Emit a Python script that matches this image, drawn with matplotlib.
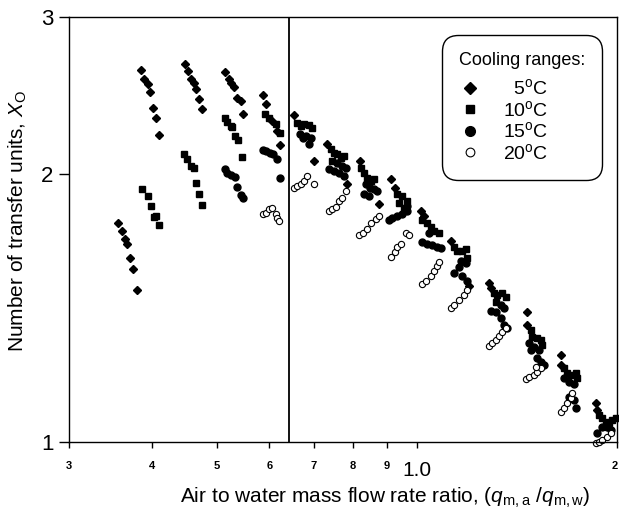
import matplotlib
matplotlib.use("Agg")
import matplotlib.pyplot as plt
from matplotlib.ticker import FixedLocator, NullLocator, FixedFormatter

plt.rcParams['font.family'] = ['Liberation Sans', 'DejaVu Sans']
plt.rcParams['mathtext.fontset'] = 'custom'
plt.rcParams['mathtext.rm'] = 'Liberation Sans'
plt.rcParams['mathtext.it'] = 'Liberation Sans:italic'

# ---- data: 5 C (diamonds)
x5 = [0.356, 0.360, 0.364, 0.366, 0.371, 0.374, 0.379,
      0.385, 0.389, 0.394, 0.397, 0.401, 0.406, 0.409,
      0.448, 0.452, 0.457, 0.462, 0.466, 0.470, 0.475,
      0.514, 0.521, 0.526, 0.530, 0.537, 0.543, 0.547,
      0.586, 0.594, 0.606, 0.617, 0.623,
      0.654, 0.701, 0.733, 0.785, 0.822, 0.877, 0.915, 0.925,
      1.014, 1.024, 1.124, 1.196, 1.282, 1.291, 1.462, 1.462,
      1.643, 1.643, 1.854, 1.861]
y5 = [1.760, 1.728, 1.689, 1.667, 1.608, 1.563, 1.480,
      2.617, 2.556, 2.524, 2.472, 2.372, 2.312, 2.213,
      2.657, 2.610, 2.556, 2.530, 2.491, 2.428, 2.366,
      2.603, 2.556, 2.530, 2.504, 2.434, 2.415, 2.335,
      2.453, 2.397, 2.294, 2.236, 2.157,
      2.329, 2.069, 2.162, 1.951, 2.069, 1.852, 1.976, 1.931,
      1.819, 1.796, 1.684, 1.499, 1.510, 1.491, 1.398, 1.352,
      1.251, 1.220, 1.106, 1.086]

# ---- 10 C (squares)
x10 = [0.386, 0.394, 0.398, 0.403, 0.406, 0.409,
       0.446, 0.451, 0.457, 0.462, 0.466, 0.470, 0.475,
       0.514, 0.519, 0.525, 0.528, 0.533, 0.539, 0.545,
       0.590, 0.600, 0.613, 0.623,
       0.661, 0.670, 0.677, 0.689, 0.696,
       0.743, 0.751, 0.759, 0.769, 0.777, 0.746,
       0.825, 0.833, 0.841, 0.853, 0.862,
       0.934, 0.950, 0.967, 0.940, 0.957,
       1.017, 1.035, 1.049, 1.060, 1.079,
       1.136, 1.148, 1.168, 1.184, 1.188,
       1.304, 1.318, 1.341, 1.359, 1.313,
       1.482, 1.487, 1.513, 1.534, 1.539,
       1.661, 1.678, 1.701, 1.731, 1.737,
       1.874, 1.893, 1.919, 1.940, 1.960, 1.987]
y10 = [1.926, 1.891, 1.843, 1.791, 1.796, 1.755,
       2.107, 2.080, 2.043, 2.032, 1.956, 1.901, 1.848,
       2.312, 2.289, 2.265, 2.259, 2.207, 2.185, 2.090,
       2.335, 2.312, 2.276, 2.224,
       2.283, 2.265, 2.276, 2.271, 2.254,
       2.134, 2.112, 2.107, 2.085, 2.096, 2.069,
       2.032, 2.006, 1.981, 1.966, 1.976,
       1.901, 1.891, 1.866, 1.857, 1.833,
       1.778, 1.764, 1.742, 1.728, 1.719,
       1.654, 1.641, 1.637, 1.646, 1.608,
       1.469, 1.461, 1.469, 1.454, 1.435,
       1.335, 1.311, 1.308, 1.301, 1.284,
       1.210, 1.195, 1.189, 1.195, 1.179,
       1.072, 1.064, 1.053, 1.050, 1.058, 1.064]

# ---- 15 C (filled circles)
x15 = [0.514, 0.519, 0.526, 0.532, 0.537, 0.543, 0.547,
       0.586, 0.594, 0.602, 0.608, 0.617, 0.623,
       0.666, 0.673, 0.682, 0.694, 0.689,
       0.759, 0.772, 0.782, 0.738, 0.751, 0.764, 0.777,
       0.838, 0.850, 0.862, 0.871, 0.833, 0.847,
       0.918, 0.934, 0.950, 0.967, 0.908, 0.967,
       1.042, 1.017, 1.035, 1.053, 1.071, 1.086,
       1.164, 1.184, 1.156, 1.136, 1.168, 1.188,
       1.336, 1.350, 1.291, 1.313, 1.336, 1.350, 1.364,
       1.472, 1.497, 1.523, 1.482, 1.513, 1.534, 1.550,
       1.661, 1.690, 1.719, 1.690, 1.719, 1.731,
       1.893, 1.926, 1.953, 1.861]
y15 = [2.027, 2.006, 1.996, 1.986, 1.936, 1.896, 1.881,
       2.129, 2.123, 2.112, 2.107, 2.080, 1.981,
       2.218, 2.195, 2.207, 2.195, 2.162,
       2.058, 2.043, 2.032, 2.027, 2.016, 2.006, 1.991,
       1.951, 1.931, 1.926, 1.915, 1.901, 1.891,
       1.787, 1.796, 1.805, 1.819, 1.778, 1.843,
       1.719, 1.676, 1.671, 1.663, 1.654, 1.650,
       1.599, 1.587, 1.571, 1.550, 1.538, 1.518,
       1.424, 1.416, 1.405, 1.398, 1.377, 1.352, 1.342,
       1.291, 1.278, 1.268, 1.268, 1.242, 1.229, 1.220,
       1.179, 1.167, 1.161, 1.123, 1.114, 1.092,
       1.039, 1.039, 1.031, 1.023]

# ---- 20 C (open circles)
x20 = [0.586, 0.594, 0.600, 0.606, 0.613, 0.617, 0.621,
       0.654, 0.661, 0.670, 0.677, 0.684, 0.699,
       0.738, 0.746, 0.756, 0.764, 0.772, 0.782,
       0.819, 0.830, 0.841, 0.853, 0.868, 0.877,
       0.915, 0.925, 0.934, 0.947, 0.963, 0.973,
       1.017, 1.031, 1.049, 1.060, 1.071, 1.079,
       1.124, 1.136, 1.156, 1.176, 1.188,
       1.282, 1.295, 1.313, 1.327, 1.341, 1.359,
       1.457, 1.472, 1.497, 1.513, 1.534, 1.508,
       1.643, 1.661, 1.678, 1.701, 1.707,
       1.854, 1.874, 1.893, 1.926, 1.953]
y20 = [1.805, 1.810, 1.828, 1.833, 1.805, 1.787, 1.773,
       1.931, 1.941, 1.951, 1.966, 1.991, 1.951,
       1.819, 1.828, 1.838, 1.866, 1.881, 1.915,
       1.706, 1.719, 1.737, 1.760, 1.782, 1.796,
       1.612, 1.633, 1.654, 1.667, 1.715, 1.710,
       1.506, 1.518, 1.538, 1.558, 1.575, 1.591,
       1.413, 1.424, 1.442, 1.461, 1.480,
       1.281, 1.291, 1.301, 1.314, 1.328, 1.342,
       1.176, 1.183, 1.189, 1.198, 1.210, 1.213,
       1.080, 1.092, 1.106, 1.120, 1.135,
       0.997, 1.000, 1.005, 1.013, 1.023]

divider_x = 0.641
x_ticks = [0.3, 0.4, 0.5, 0.6, 0.7, 0.8, 0.9, 1.0, 2.0]
x_ticklabels = ['3', '4', '5', '6', '7', '8', '9', '1.0', '2']
y_ticks = [1, 2, 3]
y_ticklabels = ['1', '2', '3']
legend_labels = ['  5$^\\mathrm{o}$C', '10$^\\mathrm{o}$C', '15$^\\mathrm{o}$C', '20$^\\mathrm{o}$C']

fig = plt.figure(figsize=(6.19, 5.18), dpi=100)
ax = fig.add_axes([0.1115, 0.1467, 0.886, 0.820])
ax.set_xscale('log')
ax.set_yscale('log')
ax.set_xlim(0.3, 2.0)
ax.set_ylim(1.0, 3.0)

ax.axvline(divider_x, color='black', lw=1.3, zorder=1)

h5, = ax.plot(x5, y5, 'D', color='black', ms=4.2, ls='none', clip_on=False)
h10, = ax.plot(x10, y10, 's', color='black', ms=4.5, ls='none', clip_on=False)
h15, = ax.plot(x15, y15, 'o', color='black', ms=5, ls='none', clip_on=False)
h20, = ax.plot(x20, y20, 'o', mfc='white', mec='black', mew=0.8, ms=4.5, ls='none', clip_on=False)

ax.xaxis.set_major_locator(FixedLocator(x_ticks))
ax.xaxis.set_major_formatter(FixedFormatter(x_ticklabels))
ax.xaxis.set_minor_locator(NullLocator())
ax.yaxis.set_major_locator(FixedLocator(y_ticks))
ax.yaxis.set_major_formatter(FixedFormatter(y_ticklabels))
ax.yaxis.set_minor_locator(NullLocator())

ax.tick_params(axis='x', direction='out', length=4, width=1, pad=10)
ax.tick_params(axis='y', direction='out', length=7, width=1, labelsize=16, pad=4)
for lab, txt in zip(ax.get_xticklabels(), x_ticklabels):
    if txt == '1.0':
        lab.set_fontsize(15)
    else:
        lab.set_fontsize(8)
        lab.set_fontweight('bold')
    if txt == '2':
        lab.set_horizontalalignment('right')

for sp in ax.spines.values():
    sp.set_linewidth(1.0)
    sp.set_color('black')

ax.set_ylabel(r'Number of transfer units, $\mathit{X}_{\mathrm{O}}$', fontsize=15)
ax.yaxis.set_label_coords(-0.073, 0.52)
ax.set_xlabel(r'Air to water mass flow rate ratio, $(q_{\mathrm{m,a}}\ /q_{\mathrm{m,w}})$', fontsize=15)
ax.xaxis.set_label_coords(0.577, -0.103)

leg = ax.legend([h5, h10, h15, h20], legend_labels, title='Cooling ranges:',
                loc='upper right', bbox_to_anchor=(0.971, 0.958), borderaxespad=0,
                fontsize=14, title_fontsize=13, frameon=True, fancybox=True,
                edgecolor='black', framealpha=1, labelspacing=0.08,
                handletextpad=1.1, borderpad=0.85, handlelength=1.2, markerscale=1.4,
                alignment='left')
leg._legend_box.sep = 7
leg.get_frame().set_linewidth(1.0)
leg.get_frame().set_boxstyle('round,pad=0,rounding_size=0.8')

fig.savefig('out.png', dpi=100)
